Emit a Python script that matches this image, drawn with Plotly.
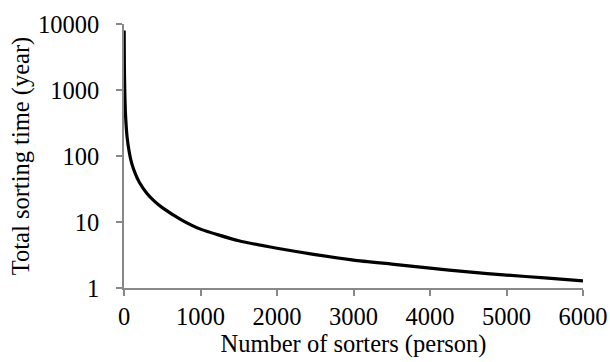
import plotly.graph_objects as go

sorters = [2, 5, 10, 20, 40, 70, 100, 150, 200, 300, 400, 500, 750, 1000,
           1500, 2000, 2500, 3000, 3500, 4000, 4500, 5000, 5500, 6000]
sorting_time_years = [8000, 2200, 950, 420, 195, 112, 78, 53, 40, 27, 20.5, 16.5,
                      10.8, 7.8, 5.2, 4.0, 3.2, 2.65, 2.3, 2.0, 1.75, 1.57, 1.42, 1.28]

x_ticks = [0, 1000, 2000, 3000, 4000, 5000, 6000]
y_ticks = [1, 10, 100, 1000, 10000]
y_tick_labels = ["1", "10", "100", "1000", "10000"]

x_title = "Number of sorters (person)"
y_title = "Total sorting time (year)"

fig = go.Figure()
fig.add_trace(go.Scatter(
    x=sorters, y=sorting_time_years, mode="lines",
    line=dict(color="black", width=3.2, shape="spline", smoothing=0.6),
    showlegend=False, hoverinfo="skip",
))

axis_color = "#888888"
font = dict(family="Liberation Serif", size=24.5, color="black")

fig.update_layout(
    width=610, height=362,
    margin=dict(l=124, r=27, t=24, b=74),
    paper_bgcolor="white", plot_bgcolor="white",
    font=font,
    xaxis=dict(
        range=[0, 6000], tickvals=x_ticks, showgrid=False, zeroline=False,
        showline=True, linecolor=axis_color, linewidth=1.5,
        ticks="outside", ticklen=6, tickcolor=axis_color, tickwidth=1.5,
        title=dict(text=x_title, standoff=4, font=font),
        tickfont=font, automargin=False, ticklabelstandoff=0,
    ),
    yaxis=dict(
        type="log", range=[0, 4], tickvals=y_ticks, ticktext=y_tick_labels,
        showgrid=False, zeroline=False,
        showline=True, linecolor=axis_color, linewidth=1.5,
        ticks="outside", ticklen=6, tickcolor=axis_color, tickwidth=1.5,
        title=dict(text=y_title, standoff=2, font=font),
        tickfont=font, ticklabelstandoff=12, automargin=False,
    ),
)

fig.write_html("out.html")
